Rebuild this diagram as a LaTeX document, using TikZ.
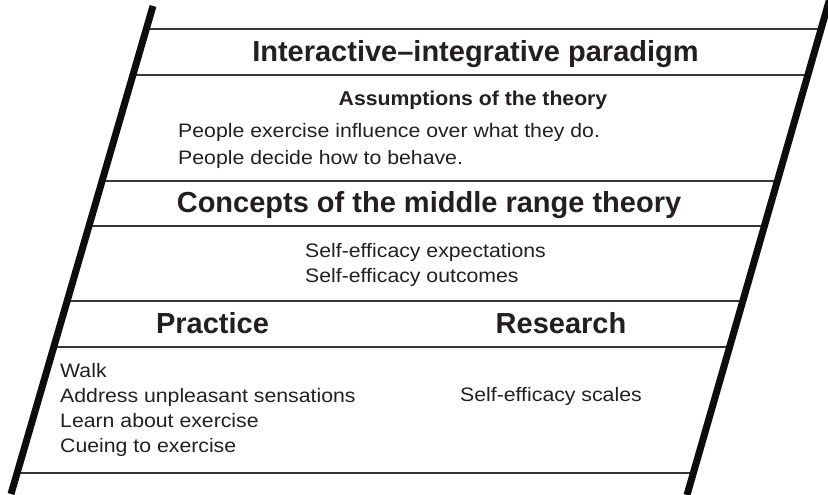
\documentclass[tikz,border=0pt]{standalone}
\usepackage{fontspec}
\setmainfont{Liberation Sans}
\newfontfamily\regfont[FakeStretch=1.09]{Liberation Sans}
\newfontfamily\subfont[FakeStretch=1.06]{Liberation Sans Bold}
\newfontfamily\headfont{Liberation Sans Bold}
\definecolor{ink}{HTML}{231F20}
\tikzset{
  thick edge/.style={line width=7pt, draw=black!95},
  rule/.style={line width=2pt, draw=ink!90},
  head/.style={inner sep=0pt, anchor=base, text=ink, font=\headfont\fontsize{29}{32}\selectfont},
  subhead/.style={inner sep=0pt, anchor=base, text=ink, font=\subfont\fontsize{20}{24}\selectfont},
  body/.style={inner sep=0pt, anchor=base west, text=ink, font=\regfont\fontsize{19.5}{24}\selectfont},
}
\begin{document}
\begin{tikzpicture}[x=1pt,y=-1pt]
\useasboundingbox (0,0) rectangle (828,495);
% horizontal rules
\foreach \yy in {29,75,181,226,301,347,473}{
  \draw[rule] ({153-0.291*(\yy-6)},\yy) -- ({830-0.29*(\yy+2)},\yy);
}
% thick slanted sides
\coordinate (LT) at (153,6);
\coordinate (LB) at (11,494);
\coordinate (RT) at (830,-2);
\coordinate (RB) at (687,495);
\draw[thick edge] (LT) -- (LB);
\draw[thick edge] (RT) -- (RB);
% texts
\node[head] (t1) at (475.5,62) {Interactive–integrative paradigm};
\node[subhead] (t2) at (473,105.5) {Assumptions of the theory};
\node[body] (a1) at (178,137.5) {People exercise influence over what they do.};
\node[body] (a2) at (178,164) {People decide how to behave.};
\node[head] (t3) at (429,212.5) {Concepts of the middle range theory};
\node[body] (c1) at (305,257.5) {Self-efficacy expectations};
\node[body] (c2) at (305,282) {Self-efficacy outcomes};
\node[head] (p) at (212.5,333) {Practice};
\node[head] (r) at (561,333) {Research};
\node[body] (p1) at (60,377.5) {Walk};
\node[body] (p2) at (60,402) {Address unpleasant sensations};
\node[body] (p3) at (60,427.5) {Learn about exercise};
\node[body] (p4) at (60,452.5) {Cueing to exercise};
\node[body] (r1) at (460,401) {Self-efficacy scales};
\end{tikzpicture}
\end{document}
